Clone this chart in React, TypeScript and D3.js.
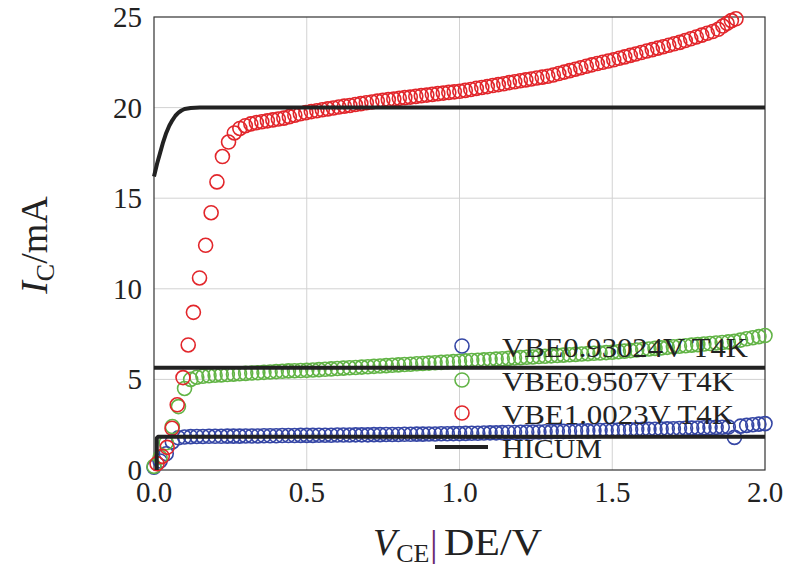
import React from "react";
import * as d3 from "d3";

// ---------- data ----------
const vceSweep = [
  0, 0.02, 0.04, 0.06, 0.08, 0.1, 0.12, 0.14, 0.16, 0.18,
  0.2, 0.22, 0.24, 0.26, 0.28, 0.3, 0.32, 0.34, 0.36, 0.38,
  0.4, 0.42, 0.44, 0.46, 0.48, 0.5, 0.52, 0.54, 0.56, 0.58,
  0.6, 0.62, 0.64, 0.66, 0.68, 0.7, 0.72, 0.74, 0.76, 0.78,
  0.8, 0.82, 0.84, 0.86, 0.88, 0.9, 0.92, 0.94, 0.96, 0.98,
  1.0, 1.02, 1.04, 1.06, 1.08, 1.1, 1.12, 1.14, 1.16, 1.18,
  1.2, 1.22, 1.24, 1.26, 1.28, 1.3, 1.32, 1.34, 1.36, 1.38,
  1.4, 1.42, 1.44, 1.46, 1.48, 1.5, 1.52, 1.54, 1.56, 1.58,
  1.6, 1.62, 1.64, 1.66, 1.68, 1.7, 1.72, 1.74, 1.76, 1.78,
  1.8, 1.82, 1.84, 1.86, 1.88, 1.9, 1.92, 1.94, 1.96, 1.98, 2.0,
];

const icBlue = [
  0.15, 0.5, 0.9, 1.55, 1.78, 1.82, 1.84, 1.85, 1.85, 1.86,
  1.86, 1.86, 1.87, 1.87, 1.87, 1.88, 1.88, 1.88, 1.89, 1.89,
  1.89, 1.9, 1.9, 1.9, 1.91, 1.91, 1.91, 1.92, 1.92, 1.92,
  1.93, 1.93, 1.93, 1.94, 1.94, 1.94, 1.95, 1.95, 1.96, 1.96,
  1.96, 1.97, 1.97, 1.98, 1.98, 1.99, 1.99, 2.0, 2.0, 2.01,
  2.01, 2.02, 2.03, 2.03, 2.04, 2.05, 2.05, 2.06, 2.07, 2.07,
  2.08, 2.09, 2.1, 2.1, 2.11, 2.12, 2.13, 2.13, 2.14, 2.15,
  2.16, 2.16, 2.17, 2.18, 2.19, 2.2, 2.2, 2.21, 2.22, 2.23,
  2.24, 2.24, 2.25, 2.26, 2.27, 2.28, 2.29, 2.3, 2.31, 2.32,
  2.33, 2.34, 2.35, 2.36, 2.37, 1.8, 2.42, 2.46, 2.5, 2.53, 2.56,
];

const icGreen = [
  0.2, 0.7, 1.5, 2.4, 3.5, 4.5, 5.0, 5.12, 5.17, 5.2,
  5.23, 5.25, 5.27, 5.29, 5.31, 5.33, 5.35, 5.37, 5.39, 5.41,
  5.43, 5.45, 5.47, 5.48, 5.49, 5.5, 5.52, 5.54, 5.56, 5.58,
  5.6, 5.62, 5.64, 5.66, 5.68, 5.7, 5.72, 5.74, 5.76, 5.78,
  5.8, 5.82, 5.84, 5.86, 5.88, 5.9, 5.92, 5.94, 5.96, 5.98,
  6.0, 6.02, 6.04, 6.06, 6.08, 6.1, 6.12, 6.14, 6.16, 6.18,
  6.2, 6.22, 6.24, 6.26, 6.28, 6.3, 6.32, 6.34, 6.36, 6.38,
  6.4, 6.42, 6.44, 6.46, 6.48, 6.5, 6.53, 6.56, 6.59, 6.62,
  6.65, 6.68, 6.71, 6.74, 6.77, 6.8, 6.83, 6.86, 6.89, 6.92,
  6.95, 6.98, 7.01, 7.04, 7.07, 7.1, 7.17, 7.24, 7.3, 7.36, 7.42,
];

const vceRed = [
  0.01, 0.027, 0.043, 0.059, 0.076, 0.095, 0.112, 0.129, 0.149, 0.169,
  0.187, 0.206, 0.224, 0.244, 0.263, 0.281, 0.299, 0.317, 0.335, 0.353,
  0.371, 0.389, 0.407, 0.425, 0.443, 0.461, 0.479, 0.497, 0.515, 0.533,
  0.551, 0.569, 0.587, 0.605, 0.623, 0.641, 0.659, 0.677, 0.695, 0.713,
  0.731, 0.749, 0.767, 0.785, 0.803, 0.821, 0.839, 0.857, 0.875, 0.893,
  0.911, 0.929, 0.947, 0.965, 0.983, 1.001, 1.019, 1.037, 1.055, 1.073,
  1.091, 1.109, 1.127, 1.145, 1.163, 1.181, 1.199, 1.217, 1.235, 1.253,
  1.271, 1.289, 1.307, 1.325, 1.343, 1.361, 1.379, 1.397, 1.415, 1.433,
  1.451, 1.469, 1.487, 1.505, 1.523, 1.541, 1.559, 1.577, 1.595, 1.613,
  1.631, 1.649, 1.667, 1.685, 1.703, 1.721, 1.739, 1.757, 1.775, 1.793,
  1.811, 1.829, 1.847, 1.862, 1.876, 1.89, 1.905,
];

const icRed = [
  0.35, 0.75, 1.25, 2.3, 3.6, 5.1, 6.9, 8.7, 10.6, 12.4,
  14.2, 15.9, 17.3, 18.1, 18.6, 18.85, 19.0, 19.1, 19.17, 19.22,
  19.27, 19.32, 19.37, 19.42, 19.5, 19.58, 19.66, 19.72, 19.78, 19.83,
  19.88, 19.93, 19.98, 20.03, 20.08, 20.12, 20.17, 20.22, 20.27, 20.31,
  20.36, 20.4, 20.44, 20.47, 20.51, 20.55, 20.58, 20.62, 20.66, 20.69,
  20.73, 20.77, 20.8, 20.84, 20.87, 20.9, 20.95, 21.0, 21.06, 21.11,
  21.16, 21.22, 21.27, 21.32, 21.38, 21.43, 21.48, 21.53, 21.58, 21.63,
  21.68, 21.73, 21.8, 21.88, 21.96, 22.04, 22.12, 22.2, 22.28, 22.36,
  22.43, 22.5, 22.57, 22.64, 22.72, 22.8, 22.88, 22.96, 23.04, 23.12,
  23.2, 23.28, 23.36, 23.44, 23.52, 23.6, 23.7, 23.8, 23.9, 24.0,
  24.1, 24.2, 24.32, 24.5, 24.65, 24.8, 24.9,
];

const hicumRedV = [0, 0.01, 0.02, 0.03, 0.04, 0.05, 0.06, 0.07, 0.08, 0.09, 0.1, 0.12, 0.15, 2.0];
const hicumRedI = [16.2, 16.9, 17.5, 18.1, 18.6, 19.0, 19.3, 19.55, 19.72, 19.84, 19.92, 19.98, 20.0, 20.0];
const hicumGreenV = [0, 2.0];
const hicumGreenI = [5.64, 5.64];
const hicumBlueV = [0.009, 0.009, 0.013, 2.0];
const hicumBlueI = [0, 1.76, 1.83, 1.83];

const xTicks = [0, 0.5, 1.0, 1.5, 2.0];
const yTicks = [0, 5, 10, 15, 20, 25];
const legendLabels = ["VBE0.93024V T4K", "VBE0.9507V T4K", "VBE1.0023V T4K", "HICUM"];

const BLUE = "#3546a5";
const GREEN = "#62b446";
const RED = "#e2262b";
const FONT = "'Liberation Serif', 'DejaVu Serif', serif";

export default function App() {
  const W = 790, H = 564;
  const x = d3.scaleLinear().domain([0, 2]).range([154, 765]);
  const y = d3.scaleLinear().domain([0, 25]).range([470, 17]);
  const line = d3
    .line<[number, number]>()
    .x((d) => x(d[0]))
    .y((d) => y(d[1]));

  const series = [
    { xs: vceSweep, ys: icBlue, color: BLUE },
    { xs: vceSweep, ys: icGreen, color: GREEN },
    { xs: vceRed, ys: icRed, color: RED },
  ];
  const hicum = [
    [hicumBlueV, hicumBlueI],
    [hicumGreenV, hicumGreenI],
    [hicumRedV, hicumRedI],
  ];

  const legendY = [346, 380, 413, 447];
  const legendLen = [246, 232, 232, 100];
  const ts = { fontFamily: FONT };

  return (
    <svg
      width={W}
      height={H}
      style={{ position: "absolute", left: 0, top: 0, display: "block", background: "#fff" }}
    >
      <rect x={0} y={0} width={W} height={H} fill="#fff" />
      {/* grid */}
      {xTicks.slice(1, -1).map((t) => (
        <line key={"gx" + t} x1={x(t)} x2={x(t)} y1={y(0)} y2={y(25)} stroke="#d2d2d2" strokeWidth={1} />
      ))}
      {yTicks.slice(1, -1).map((t) => (
        <line key={"gy" + t} x1={x(0)} x2={x(2)} y1={y(t)} y2={y(t)} stroke="#d2d2d2" strokeWidth={1} />
      ))}
      {/* axis frame */}
      <rect x={x(0)} y={y(25)} width={x(2) - x(0)} height={y(0) - y(25)} fill="none" stroke="#333" strokeWidth={1.2} />

      {/* markers */}
      {series.map((s, si) => (
        <g key={"s" + si}>
          {s.ys.map((v, i) => (
            <circle key={i} cx={x(s.xs[i])} cy={y(v)} r={7} fill="none" stroke={s.color} strokeWidth={1.6} />
          ))}
        </g>
      ))}

      {/* HICUM lines */}
      {hicum.map(([vs, is], k) => (
        <path
          key={"h" + k}
          d={line(vs.map((v, i) => [v, is[i]] as [number, number])) || ""}
          fill="none"
          stroke="#222"
          strokeWidth={4}
          strokeLinejoin="round"
        />
      ))}

      {/* tick labels */}
      {yTicks.map((t) => (
        <text key={"yt" + t} x={142} y={y(t) + 10} textAnchor="end" fontSize={29} fill="#222" style={ts}>
          {String(t)}
        </text>
      ))}
      {xTicks.map((t) => (
        <text key={"xt" + t} x={x(t)} y={502} textAnchor="middle" fontSize={29} fill="#222" style={ts}>
          {t.toFixed(1)}
        </text>
      ))}

      {/* legend */}
      {[BLUE, GREEN, RED].map((c, i) => (
        <circle key={"lm" + i} cx={462} cy={legendY[i]} r={7} fill="none" stroke={c} strokeWidth={1.6} />
      ))}
      <line x1={435} x2={488} y1={legendY[3]} y2={legendY[3]} stroke="#222" strokeWidth={4} />
      {legendLabels.map((l, i) => (
        <text
          key={"lt" + i}
          x={502}
          y={legendY[i] + 11}
          fontSize={28}
          fill="#222"
          style={ts}
          textLength={legendLen[i]}
          lengthAdjust="spacingAndGlyphs"
        >
          {l}
        </text>
      ))}

      {/* x label */}
      <text x={373} y={555} fontSize={38} fill="#222" style={ts}>
        <tspan fontStyle="italic">V</tspan>
        <tspan fontSize={26} dy={7}>CE</tspan>
      </text>
      <text x={430} y={557} fontSize={38} fill="#6a2c70" style={ts}>|</text>
      <text x={444} y={555} fontSize={38} fill="#222" style={ts} textLength={98} lengthAdjust="spacingAndGlyphs">
        DE/V
      </text>

      {/* y label */}
      <g transform="translate(47,245) rotate(-90)">
        <text x={0} y={0} textAnchor="middle" fontSize={38} fill="#222" style={ts}>
          <tspan fontStyle="italic">I</tspan>
          <tspan fontSize={26} dy={7}>C</tspan>
          <tspan dy={-7}>/mA</tspan>
        </text>
      </g>
    </svg>
  );
}
